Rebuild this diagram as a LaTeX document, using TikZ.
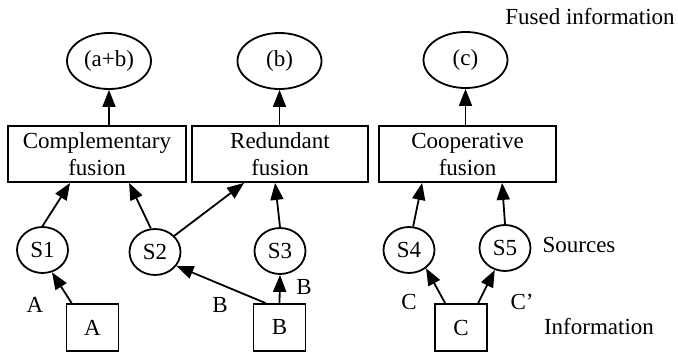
\documentclass[tikz,border=0pt]{standalone}
\usepackage{fontspec}
\setmainfont{Liberation Serif}
\usetikzlibrary{arrows.meta,shapes.geometric,calc}
\begin{document}
\begin{tikzpicture}[x=1pt,y=-1pt,
  every node/.style={font=\fontsize{23}{27}\selectfont, inner sep=0pt},
  line width=1.8pt,
  fuse/.style={draw, rectangle, minimum height=56pt, align=center},
  outc/.style={draw, ellipse, minimum width=84pt, minimum height=56pt},
  src/.style={draw, ellipse, minimum width=51pt, minimum height=46pt},
  info/.style={draw, rectangle, minimum width=52pt, minimum height=47pt},
  arr/.style={-{Triangle[length=17pt,width=13pt]}}
]
\useasboundingbox (0,0) rectangle (678,353);
% outcomes
\node[outc] (ab) at (109,61) {(a+b)};
\node[outc] (b) at (279.5,61) {(b)};
\node[outc] (c) at (465.5,60) {(c)};
% fusion boxes
\node[fuse, minimum width=178pt] (comp) at (97,154) {Complementary\\fusion};
\node[fuse, minimum width=176pt] (red) at (280,154) {Redundant\\fusion};
\node[fuse, minimum width=177pt] (coop) at (467.5,154) {Cooperative\\fusion};
% sources
\node[src] (S1) at (42.5,250) {S1};
\node[src] (S2) at (155,252) {S2};
\node[src] (S3) at (280,251) {S3};
\node[src] (S4) at (409,250) {S4};
\node[src] (S5) at (505,248) {S5};
% information
\node[info] (A) at (92.5,327.5) {A};
\node[info] (B) at (279.5,327.5) {B};
\node[info] (C) at (461,327.5) {C};
% labels
\node (lA) at (35,305) {A};
\node (lB1) at (220,305) {B};
\node (lB2) at (304,287) {B};
\node (lC1) at (409,302) {C};
\node (lC2) at (522,302) {C’};
\node (fused) at (590,17) {Fused information};
\node (sources) at (579,245) {Sources};
\node (information) at (599,327) {Information};
% arrows fusion -> outcomes
\draw[arr] (ab.south |- comp.north) -- (ab.south);
\draw[arr] (b.south |- red.north) -- (b.south);
\draw[arr] (c.south |- coop.north) -- (c.south);
% sources -> fusion
\draw[arr] (S1.north) -- ($(comp.south west)+(63,0)$);
\draw[arr] (S2.100) -- ($(comp.south west)+(122,0)$);
\draw[arr] (S2.40) -- ($(red.south west)+(53,0)$);
\draw[arr] (S3.north) -- ($(red.south west)+(84,0)$);
\draw[arr] (S4.80) -- ($(coop.south west)+(44,0)$);
\draw[arr] (S5.north) -- ($(coop.south west)+(124,0)$);
% information -> sources
\draw[arr] ($(A.north west)+(6,0)$) -- (S1.-67);
\draw[arr] ($(B.north west)+(13,0)$) -- (S2.-33);
\draw[arr] (B.north) -- (S3.south);
\draw[arr] ($(C.north west)+(11,0)$) -- (S4.-47);
\draw[arr] ($(C.north west)+(44,0)$) -- (S5.-115);
\end{tikzpicture}
\end{document}
